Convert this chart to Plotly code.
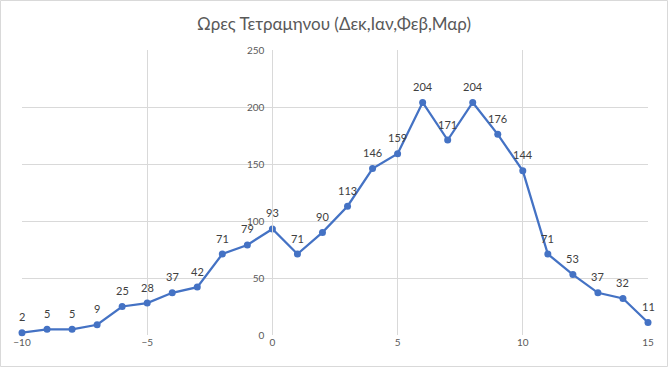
import plotly.graph_objects as go

x_vals = list(range(-10, 16))
hours = [2, 5, 5, 9, 25, 28, 37, 42, 71, 79, 93, 71, 90, 113, 146, 159,
         204, 171, 204, 176, 144, 71, 53, 37, 32, 11]
title_text = "Ωρες Τετραμηνου (Δεκ,Ιαν,Φεβ,Μαρ)"
x_ticks = [-10, -5, 0, 5, 10, 15]
y_ticks = [0, 50, 100, 150, 200, 250]

FONT = "Lato, 'Open Sans', sans-serif"
grid = "#D9D9D9"

fig = go.Figure(go.Scatter(
    x=x_vals, y=hours, mode="lines+markers",
    line=dict(color="#4472C4", width=2.25),
    marker=dict(color="#4472C4", size=7),
    cliponaxis=False, hoverinfo="x+y",
))

L, R, T, B = 22, 20, 50, 32
W, H = 668, 367
pw, ph = W - L - R, H - T - B

labels = [dict(x=xv, y=yv, text=str(yv), showarrow=False, yshift=16,
               xanchor="center", yanchor="middle",
               font=dict(family=FONT, size=11, color="#404040"))
          for xv, yv in zip(x_vals, hours)]

fig.update_layout(
    width=W, height=H,
    margin=dict(l=L, r=R, t=T, b=B),
    paper_bgcolor="white", plot_bgcolor="white",
    showlegend=False,
    title=dict(text=title_text, x=0.5, xanchor="center", y=1 - 24 / H, yanchor="middle",
               font=dict(family=FONT, size=17, color="#595959")),
    xaxis=dict(range=[-10, 15], tickvals=x_ticks, showgrid=True, gridcolor=grid, gridwidth=1,
               zeroline=False, showline=False, ticks="", automargin=False,
               tickfont=dict(family=FONT, size=10, color="#595959")),
    yaxis=dict(range=[0, 250], tickvals=y_ticks, showgrid=True, gridcolor=grid, gridwidth=1,
               zeroline=False, showline=True, linecolor=grid, linewidth=1, ticks="",
               anchor="free", position=10 / 25, side="left", automargin=False,
               ticklabelstandoff=6,
               tickfont=dict(family=FONT, size=10, color="#595959")),
    annotations=labels,
    shapes=[dict(type="rect", xref="paper", yref="paper",
                 x0=(0.5 - L) / pw, x1=(W - 0.5 - L) / pw,
                 y0=-(B - 0.5) / ph, y1=(ph + T - 0.5) / ph,
                 line=dict(color="#D9D9D9", width=1), layer="below")],
)

fig.write_html("out.html", config={"displayModeBar": False},
               post_script="document.body.style.margin='0';")
